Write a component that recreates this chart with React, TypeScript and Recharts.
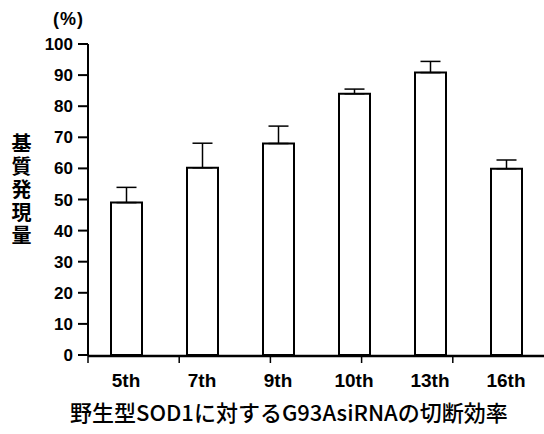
import React from 'react';
import { BarChart, Bar, XAxis, YAxis, ErrorBar } from 'recharts';

const categories = ['5th', '7th', '9th', '10th', '13th', '16th'];
const expression = [49, 60.2, 68, 84, 90.8, 59.9];
const errorUp = [4.9, 7.9, 5.6, 1.5, 3.6, 2.8];
const yTicks = [0, 10, 20, 30, 40, 50, 60, 70, 80, 90, 100];
const edgeTicks = [0, 1, 2, 3, 4, 5, 6];

const data = categories.map((name, i) => ({
    name,
    value: expression[i],
    err: [0, errorUp[i]],
}));

const latin = 'Liberation Sans, Arial, Helvetica, sans-serif';
const cjk = 'Noto Sans CJK JP, Noto Sans, sans-serif';

const App: React.FC = () => {
    return (
        <div style={{ position: 'absolute', left: 0, top: 0, width: 544, height: 434, background: '#fff' }}>
            <BarChart
                width={544}
                height={434}
                data={data}
                margin={{ top: 44, right: 0, left: 28, bottom: 48 }}
            >
                {/* short ticks between categories, drawn by a hidden numeric axis */}
                <XAxis
                    xAxisId="a"
                    type="number"
                    domain={[0, 6]}
                    ticks={edgeTicks}
                    tick={() => <g />}
                    axisLine={false}
                    tickLine={{ stroke: '#000', strokeWidth: 1.5 }}
                    tickSize={8}
                    height={1}
                />
                <XAxis
                    xAxisId="b"
                    dataKey="name"
                    axisLine={{ stroke: '#000', strokeWidth: 2.5 }}
                    tickLine={false}
                    tickMargin={12}
                    height={30}
                    tick={{ fill: '#000', fontSize: 19, fontWeight: 700, fontFamily: latin }}
                />
                <YAxis
                    domain={[0, 100]}
                    ticks={yTicks}
                    width={60}
                    axisLine={{ stroke: '#000', strokeWidth: 2 }}
                    tickLine={{ stroke: '#000', strokeWidth: 2 }}
                    tickSize={10}
                    tickMargin={5}
                    tick={{ fill: '#000', fontSize: 17, fontWeight: 700, fontFamily: latin }}
                />
                <Bar
                    xAxisId="b"
                    dataKey="value"
                    barSize={31}
                    fill="#fff"
                    stroke="#000"
                    strokeWidth={2}
                    isAnimationActive={false}
                >
                    <ErrorBar dataKey="err" direction="y" width={10} stroke="#000" strokeWidth={1.5} />
                </Bar>
            </BarChart>
            <div style={{ position: 'absolute', left: 53, top: 9, fontFamily: latin, fontSize: 18, fontWeight: 700, letterSpacing: 1 }}>
                (%)
            </div>
            <div
                style={{
                    position: 'absolute',
                    left: 11,
                    top: 133,
                    writingMode: 'vertical-rl',
                    fontFamily: cjk,
                    fontSize: 20,
                    fontWeight: 700,
                    letterSpacing: 3,
                    lineHeight: 1,
                }}
            >
                基質発現量
            </div>
            <div
                style={{
                    position: 'absolute',
                    left: 70,
                    top: 398,
                    fontFamily: cjk,
                    fontSize: 22,
                    fontWeight: 500,
                    whiteSpace: 'nowrap',
                    lineHeight: 1.2,
                }}
            >
                野生型SOD1に対するG93AsiRNAの切断効率
            </div>
        </div>
    );
};

export default App;
